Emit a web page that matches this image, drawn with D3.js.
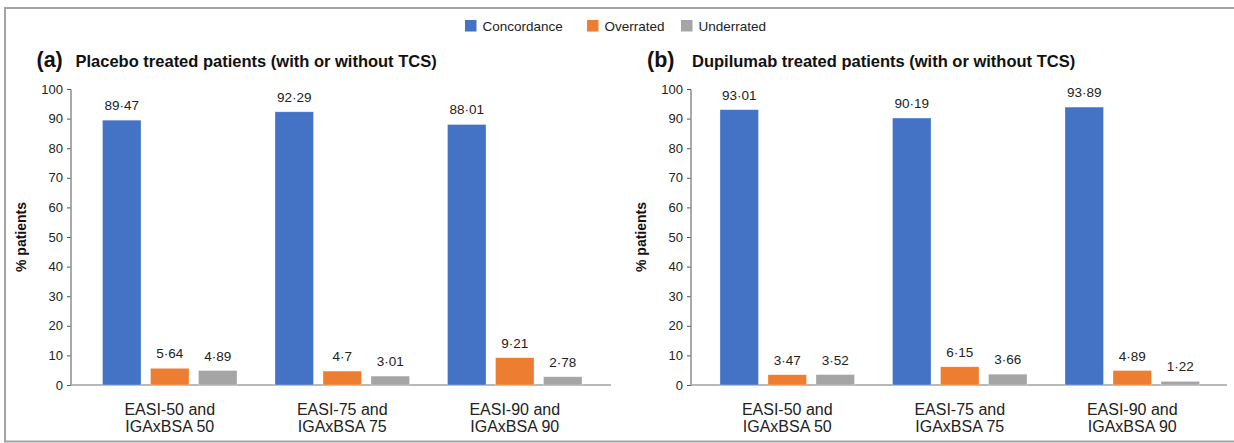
<!DOCTYPE html>
<html>
<head>
<meta charset="utf-8">
<script src="https://cdn.jsdelivr.net/npm/d3@7"></script>
<style>
  html, body { margin: 0; padding: 0; background: #fff; }
  svg { display: block; font-family: "Liberation Sans", Arial, Helvetica, sans-serif; }
</style>
</head>
<body>
<svg id="chart"></svg>
<script>
// chart data
const categories = [["EASI-50 and", "IGAxBSA 50"], ["EASI-75 and", "IGAxBSA 75"], ["EASI-90 and", "IGAxBSA 90"]];
const seriesNames = ["Concordance", "Overrated", "Underrated"];
const seriesColors = ["#4472C4", "#ED7D31", "#A5A5A5"];
const yTicks = [0, 10, 20, 30, 40, 50, 60, 70, 80, 90, 100];

// values per category: [concordance, overrated, underrated]
const placeboValues = [[89.47, 5.64, 4.89], [92.29, 4.7, 3.01], [88.01, 9.21, 2.78]];
const dupilumabValues = [[93.01, 3.47, 3.52], [90.19, 6.15, 3.66], [93.89, 4.89, 1.22]];

const W = 1234, H = 443;
const svg = d3.select("#chart").attr("width", W).attr("height", H);

// outer frame (top, left, bottom)
svg.append("path")
  .attr("d", `M1234,8 H5 V441.5 H1234`)
  .attr("fill", "none")
  .attr("stroke", "#a3a3a3")
  .attr("stroke-width", 2);

// legend
const legendX = [465, 587, 681];
const legend = svg.append("g");
seriesNames.forEach((name, i) => {
  const g = legend.append("g").attr("transform", `translate(${legendX[i]},20)`);
  g.append("rect").attr("width", 11.5).attr("height", 11.5).attr("fill", seriesColors[i]);
  g.append("text").attr("x", 17.5).attr("y", 10.5)
    .attr("font-size", 13.5).attr("fill", "#222").text(name);
});

// y scale shared by both panels
const y = d3.scaleLinear().domain([0, 100]).range([385, 89]);

function fmt(v) {
  return String(v).replace(".", "\u00b7");
}

function drawPanel(opts) {
  const g = svg.append("g");

  // title
  g.append("text")
    .attr("x", opts.letterX).attr("y", 66.5)
    .attr("font-size", 21.5).attr("font-weight", "bold").attr("fill", "#111")
    .text(opts.letter);
  g.append("text")
    .attr("x", opts.titleX).attr("y", 66.5)
    .attr("font-size", 16.5).attr("font-weight", "bold").attr("fill", "#111")
    .text(opts.title);

  // y axis
  const yAxis = g.append("g")
    .attr("transform", `translate(${opts.axisX},0)`)
    .call(d3.axisLeft(y).tickValues(yTicks).tickSize(3.5).tickSizeOuter(3.5).tickPadding(4));
  yAxis.select(".domain").attr("stroke", "#555");
  yAxis.selectAll(".tick line").attr("stroke", "#555");
  yAxis.selectAll(".tick text").attr("font-size", 13).attr("fill", "#222")
    .attr("font-family", "Liberation Sans, Arial, sans-serif");

  // y axis title
  g.append("text")
    .attr("transform", `translate(${opts.labelX},237) rotate(-90)`)
    .attr("text-anchor", "middle")
    .attr("font-size", 14).attr("font-weight", "bold").attr("fill", "#111")
    .text("% patients");

  // x scales
  const x0 = d3.scaleBand().domain(d3.range(categories.length)).range(opts.xRange).padding(0);
  const x1 = d3.scaleBand().domain(d3.range(seriesNames.length))
    .range([19, x0.bandwidth() - 19]).paddingInner(0.198).paddingOuter(0);

  // baseline
  g.append("line")
    .attr("x1", opts.axisX).attr("x2", opts.axisEnd)
    .attr("y1", y(0)).attr("y2", y(0))
    .attr("stroke", "#a0a0a0").attr("stroke-width", 1.5);

  // bars
  const groups = g.selectAll(".grp")
    .data(opts.values)
    .join("g")
    .attr("class", "grp")
    .attr("transform", (d, i) => `translate(${x0(i)},0)`);

  groups.selectAll("rect")
    .data(d => d)
    .join("rect")
    .attr("x", (d, j) => x1(j))
    .attr("width", x1.bandwidth())
    .attr("y", d => y(d))
    .attr("height", d => y(0) - y(d))
    .attr("fill", (d, j) => seriesColors[j])
    .attr("stroke", "#fff")
    .attr("stroke-opacity", 0.5)
    .attr("stroke-width", 0.6);

  groups.selectAll("text.val")
    .data(d => d)
    .join("text")
    .attr("class", "val")
    .attr("x", (d, j) => x1(j) + x1.bandwidth() / 2)
    .attr("y", d => y(d) - 10)
    .attr("text-anchor", "middle")
    .attr("font-size", 13.5).attr("fill", "#222")
    .text(d => fmt(d));

  // category labels
  const cat = g.selectAll(".cat")
    .data(categories)
    .join("text")
    .attr("class", "cat")
    .attr("text-anchor", "middle")
    .attr("font-size", 16).attr("fill", "#222")
    .attr("transform", (d, i) => `translate(${x0(i) + x0.bandwidth() / 2},0)`);
  cat.selectAll("tspan")
    .data(d => d)
    .join("tspan")
    .attr("x", 0)
    .attr("y", (d, k) => 414.5 + k * 17)
    .text(d => d);
}

drawPanel({
  letter: "(a)", letterX: 36.5, titleX: 75.5,
  title: "Placebo treated patients (with or without TCS)",
  axisX: 70.5, axisEnd: 611, labelX: 26,
  xRange: [83.5, 601], values: placeboValues
});

drawPanel({
  letter: "(b)", letterX: 647, titleX: 692,
  title: "Dupilumab treated patients (with or without TCS)",
  axisX: 690.5, axisEnd: 1227, labelX: 646,
  xRange: [701, 1218.5], values: dupilumabValues
});
</script>
</body>
</html>
